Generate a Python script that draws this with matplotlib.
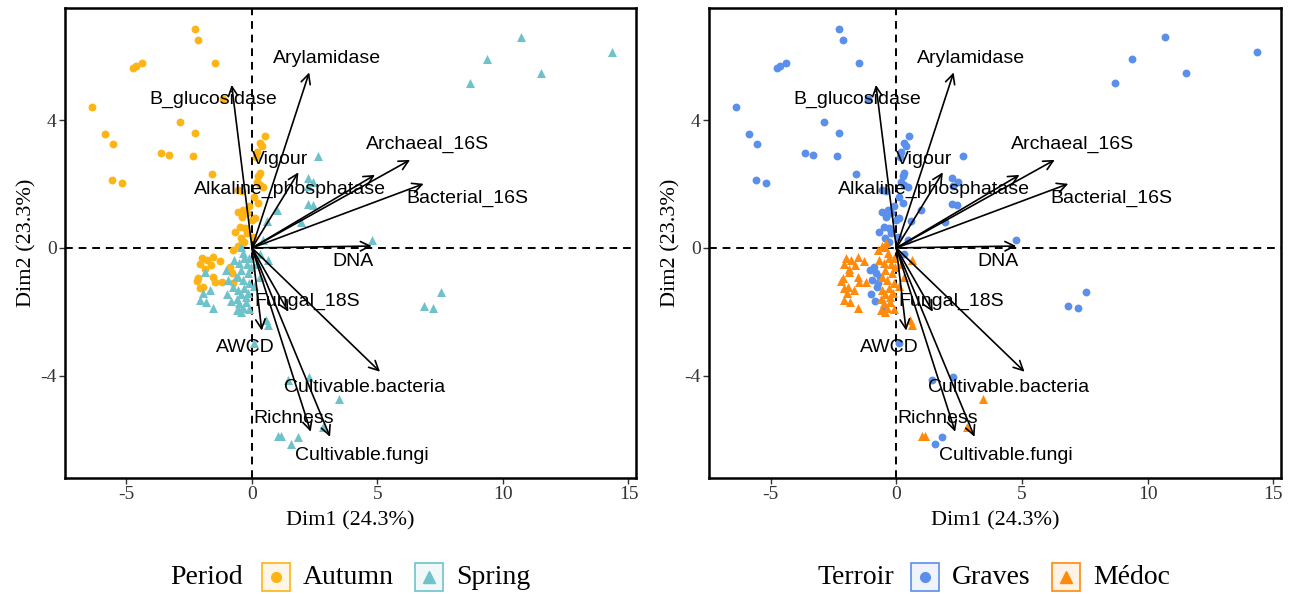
import matplotlib
matplotlib.use("Agg")
import matplotlib.pyplot as plt
from matplotlib.patches import Rectangle
from matplotlib.lines import Line2D

# ---------------- data ----------------
autumn_graves_x = [-2.27, -2.14, -1.47, -4.73, -4.62, -4.37, -6.36, -1.14, -2.87, -2.27, -5.86, -5.53,
                   -3.63, -3.31, -2.34, -5.57, -5.19, -1.61,
                   0.52, 0.30, 0.40, 0.20, 0.15, 0.32, 0.25, 0.19, 0.32, 0.45, -0.55, -0.41, -0.35, -0.55,
                   -0.21, -0.41, -0.01, 0.12, -0.48, -0.28, -0.68, -0.21, -0.45, -0.30, 0.05, 0.10, 0.25, -0.10,
                   -0.88, -0.81, -0.74]
autumn_graves_y = [6.86, 6.52, 5.79, 5.63, 5.69, 5.79, 4.41, 4.66, 3.94, 3.61, 3.57, 3.25,
                   2.97, 2.91, 2.89, 2.13, 2.05, 2.31,
                   3.52, 3.28, 3.18, 3.00, 2.85, 2.34, 2.24, 2.08, 1.98, 1.92, 1.82, 1.77, 1.19, 1.14,
                   1.09, 0.98, 0.88, 0.93, 0.67, 0.62, 0.51, 0.46, 0.30, 0.20, 0.35, 1.60, 1.40, 1.30,
                   -0.59, -0.79, -1.11]

autumn_medoc_x = [-0.41, -0.55, -0.74, -2.00, -1.81, -1.54, -1.27, -2.07, -1.87, -2.14, -1.54, -1.47,
                  -1.21, -1.94, -2.07, -1.65, -2.20]
autumn_medoc_y = [0.17, 0.06, -0.06, -0.32, -0.38, -0.27, -0.40, -0.50, -0.67, -0.95, -0.90, -1.06,
                  -1.06, -1.21, -1.26, -0.55, -1.05]

spring_graves_x = [10.70, 9.38, 8.69, 11.51, 14.35, 7.55, 6.84, 7.21, 4.77, 2.65, 2.22, 2.45, 2.25,
                   2.22, 2.42, 1.95, 1.00, 0.60, -0.64, -0.77, -0.50, -0.95, -1.00, -1.05, -0.85, 0.10,
                   1.42, 2.27, 1.82, 1.55, 0.30, 0.45]
spring_graves_y = [6.62, 5.93, 5.17, 5.49, 6.13, -1.38, -1.82, -1.88, 0.25, 2.88, 2.20, 2.08, 1.95,
                   1.37, 1.35, 0.80, 1.19, 0.85, -0.90, -1.21, -1.94, -1.00, -1.45, -0.70, -1.65, -2.98,
                   -4.14, -4.03, -5.94, -6.16, -0.20, 0.25]

spring_medoc_x = [-1.87, -2.07, -1.54, -1.67, -1.96, -1.83, -0.70, -0.50, -0.44, -0.44, -0.37, -0.57,
                  -0.17, -0.11, -0.24, -0.50, -0.37, 0.62, 0.56, 0.62, -0.30, -0.20, -0.55, -0.30,
                  -0.15, -0.45, -0.60, -0.25, -0.10, -0.05, -0.35, -0.10, 0.20, 0.30, 0.10, -0.60,
                  -0.45, 3.45, 1.02, 1.15, 2.82]
spring_medoc_y = [-0.74, -1.63, -1.89, -1.32, -1.42, -1.68, -0.38, -0.48, 0.04, -0.69, -1.00, -1.32,
                  -0.79, -1.11, -1.53, -1.73, -1.89, -0.38, -2.26, -2.41, -0.30, -0.50, -0.90, -1.25,
                  -1.40, -1.45, -1.60, -1.70, -1.90, -0.60, -0.15, -0.30, -0.50, -0.90, -1.20, -1.95,
                  -2.00, -4.74, -5.90, -5.88, -5.60]

var_names = ["Arylamidase", "B_glucosidase", "Vigour", "Alkaline_phosphatase", "Archaeal_16S",
             "Bacterial_16S", "DNA", "Fungal_18S", "AWCD", "Cultivable.bacteria", "Richness",
             "Cultivable.fungi"]
var_x = [2.28, -0.81, 1.85, 4.90, 6.30, 6.84, 4.77, 1.45, 0.39, 5.10, 2.34, 3.11]
var_y = [5.50, 5.11, 2.37, 2.29, 2.76, 2.01, 0.06, -2.00, -2.59, -3.88, -5.76, -5.92]

x_ticks = [-5, 0, 5, 10, 15]
y_ticks = [-4, 0, 4]
x_label = "Dim1 (24.3%)"
y_label = "Dim2 (23.3%)"

# label placement (repelled positions)
lab_x = [2.97, -1.54, 1.12, 1.51, 7.00, 8.57, 4.04, 2.18, -0.26, 4.48, 1.65, 4.36]
lab_y = [5.94, 4.64, 2.78, 1.85, 3.23, 1.54, -0.43, -1.66, -3.13, -4.36, -5.36, -6.49]

# ---------------- style ----------------
C_AUT = "#FDB414"
C_SPR = "#6EC3CB"
C_GRA = "#5B8FEC"
C_MED = "#FF8A0C"
SERIF = "Liberation Serif"
SANS = "Liberation Sans"

W, H = 1295, 594
fig = plt.figure(figsize=(W / 100, H / 100), dpi=100)


def px_axes(x0, x1, y0, y1):
    return fig.add_axes([x0 / W, (H - y1) / H, (x1 - x0) / W, (y1 - y0) / H])


ax1 = px_axes(65, 636, 8, 478)
ax2 = px_axes(709, 1281, 8, 478)


def setup(ax):
    ax.set_xlim(-7.45, 15.3)
    ax.set_ylim(-7.21, 7.52)
    ax.axhline(0, color="black", ls=(0, (4, 3)), lw=1.4, zorder=1)
    ax.axvline(0, color="black", ls=(0, (4, 3)), lw=1.4, zorder=1)
    for s in ax.spines.values():
        s.set_linewidth(1.8)
        s.set_color("black")
    ax.set_xticks(x_ticks)
    ax.set_yticks(y_ticks)
    ax.set_xticklabels([str(t) for t in x_ticks], fontfamily=SERIF, fontsize=14, color="#333333")
    ax.set_yticklabels([str(t) for t in y_ticks], fontfamily=SERIF, fontsize=14, color="#333333")
    ax.tick_params(direction="out", length=4, width=1, color="#333333", pad=2)
    ax.set_xlabel(x_label, fontfamily=SERIF, fontsize=16, labelpad=6)
    ax.set_ylabel(y_label, fontfamily=SERIF, fontsize=16, labelpad=3)


def arrows(ax):
    for nm, vx, vy, lx, ly in zip(var_names, var_x, var_y, lab_x, lab_y):
        ax.annotate("", xy=(vx, vy), xytext=(0, 0),
                    arrowprops=dict(arrowstyle="->", lw=1.2, color="black",
                                    mutation_scale=17, shrinkA=0, shrinkB=0), zorder=4)
        ax.text(lx, ly, nm, fontfamily=SANS, fontsize=14, ha="center", va="center",
                color="black", zorder=5)


setup(ax1)
setup(ax2)

MS_C = 32
MS_T = 42
# Left panel: colored by period
ax1.scatter(autumn_graves_x + autumn_medoc_x, autumn_graves_y + autumn_medoc_y,
            s=MS_C, marker="o", color=C_AUT, lw=0, zorder=2)
ax1.scatter(spring_graves_x + spring_medoc_x, spring_graves_y + spring_medoc_y,
            s=MS_T, marker="^", color=C_SPR, lw=0, zorder=3)
arrows(ax1)

# Right panel: colored by terroir
ax2.scatter(autumn_graves_x + spring_graves_x, autumn_graves_y + spring_graves_y,
            s=MS_C, marker="o", color=C_GRA, lw=0, zorder=2)
ax2.scatter(autumn_medoc_x + spring_medoc_x, autumn_medoc_y + spring_medoc_y,
            s=MS_T, marker="^", color=C_MED, lw=0, zorder=3)
arrows(ax2)


# ---------------- legends ----------------
def fx(px):
    return px / W


def fy(py):
    return (H - py) / H


def legend(title, title_x, items):
    yc = 577
    fig.text(fx(title_x), fy(yc), title, fontfamily=SERIF, fontsize=20, ha="left", va="center")
    for (bx, lab, col, mk) in items:
        r = Rectangle((fx(bx), fy(yc + 14)), 28 / W, 28 / H, transform=fig.transFigure,
                      facecolor=col, alpha=0.1, edgecolor="none")
        fig.add_artist(r)
        r2 = Rectangle((fx(bx), fy(yc + 14)), 28 / W, 28 / H, transform=fig.transFigure,
                       facecolor="none", edgecolor=col, lw=1.2)
        fig.add_artist(r2)
        fig.add_artist(Line2D([fx(bx + 14)], [fy(yc)], marker=mk, color=col, markersize=7 if mk == "o" else 9,
                              lw=0, transform=fig.transFigure))
        fig.text(fx(bx + 41), fy(yc), lab, fontfamily=SERIF, fontsize=20, ha="left", va="center")


legend("Period", 170, [(262, "Autumn", C_AUT, "o"), (415, "Spring", C_SPR, "^")])
legend("Terroir", 817, [(911, "Graves", C_GRA, "o"), (1052, "Médoc", C_MED, "^")])

fig.savefig("out.png", dpi=100)
